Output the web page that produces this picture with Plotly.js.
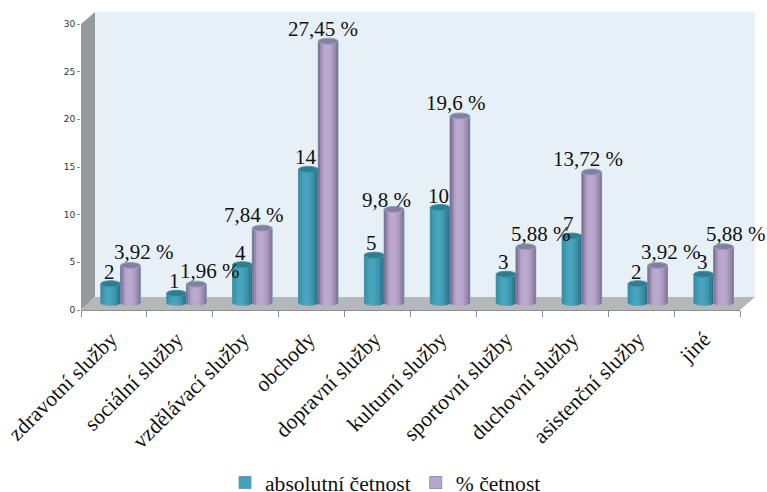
<!DOCTYPE html>
<html lang="cs">
<head>
<meta charset="utf-8">
<script src="https://cdn.plot.ly/plotly-3.0.1.min.js"></script>
<style>html,body{margin:0;padding:0;background:#fff}</style>
</head>
<body>
<div id="chart" style="width:767px;height:492px"></div>
<script>
// Druhy služeb: absolutní a procentní četnost
const categories = ['zdravotní služby','sociální služby','vzdělávací služby','obchody','dopravní služby',
  'kulturní služby','sportovní služby','duchovní služby','asistenční služby','jiné'];
const absolutni = [2,1,4,14,5,10,3,7,2,3];
const procenta = [3.92,1.96,7.84,27.45,9.8,19.6,5.88,13.72,3.92,5.88];
const procentaPopisky = ['3,92 %','1,96 %','7,84 %','27,45 %','9,8 %','19,6 %','5,88 %','13,72 %','3,92 %','5,88 %'];

// Plot frame in pixels
const W = 767, H = 492, L = 81, R = 740, T = 24, B = 310;
const pxX = p => (p - L) / (R - L);
const pxY = p => (B - p) / (B - T);
const poly = pts => 'M' + pts.map(p => pxX(p[0]) + ',' + pxY(p[1])).join('L') + 'Z';

// Cylinder geometry, in axis units
const unitY = 30 / (B - T);
const barWidth = 0.3;
const floorLift = 0.75;
const rimDepth = 3 * unitY;
const capDepth = 3 * unitY;

// Shading bands across a cylinder, left to right
const tealBands = ['#3a8ea6','#3f98b0','#44a1b9','#47a6be','#47a6be','#44a1b9','#3f98b0','#3a8ea5','#327f95','#2b7085'];
const purpleBands = ['#7f7193','#9a89ae','#b2a0c6','#bba8cf','#bca9d0','#bba8cf','#b4a2c8','#a897bb','#9888ab','#85769a'];

function cylinder(name, values, bands, start, edge, mid) {
  const out = [{
    type: 'bar', name, x: categories, y: values, base: values.map(() => floorLift),
    width: barWidth, offset: start, xaxis: 'x2', yaxis: 'y', cliponaxis: false,
    marker: {color: mid, line: {color: edge, width: 1}}
  }];
  const n = bands.length;
  bands.forEach((color, k) => {
    const u = (k + 0.5) / n * 2 - 1;
    const sag = rimDepth * Math.sqrt(1 - u * u);
    out.push({
      type: 'bar', showlegend: false, x: categories,
      y: values.map(v => v + sag), base: values.map(() => floorLift - sag),
      width: barWidth / n, offset: start + k * barWidth / n,
      xaxis: 'x2', yaxis: 'y', cliponaxis: false,
      marker: {color, line: {width: 0}}
    });
  });
  return out;
}

const traces = [
  // Empty trace that keeps the category axis and its labels on the chart
  {type: 'scatter', mode: 'none', x: categories, y: categories.map(() => 0), xaxis: 'x', yaxis: 'y', showlegend: false},
  ...cylinder('absolutní četnost', absolutni, tealBands, -barWidth, '#5f9fb2', '#44a1b9'),
  ...cylinder('% četnost', procenta, purpleBands, 0, '#6fa3b6', '#b8a5cc')
];

// Cylinder caps
const capShapes = [];
function addCaps(values, start, fill, edge) {
  values.forEach((v, i) => capShapes.push({
    type: 'circle', xref: 'x2', yref: 'y', layer: 'above',
    x0: i + start, x1: i + start + barWidth,
    y0: v + floorLift - capDepth, y1: v + floorLift + capDepth,
    fillcolor: fill, line: {color: edge, width: 1}
  }));
}
addCaps(absolutni, -barWidth, '#2f7d93', '#3f93a9');
addCaps(procenta, 0, '#8d7a9e', '#7fb0c2');

// Value labels: nudges keep neighbouring labels apart
const absNudge = [-1,-2,-2,-2,-3,-2,-3,-3,-1,-1];
const pctNudge = [14,14,-8,-5,-8,-4,15,-4,13,12];
const pctDrop = [-1,-1,-1,-2,-5,-1,-1,-1,-1,-1];
const labelFont = {family: 'Liberation Serif, serif', size: 21, color: '#111'};
const annotations = [];
absolutni.forEach((v, i) => annotations.push({
  xref: 'x2', yref: 'y', x: i - barWidth / 2, y: v + floorLift, text: String(v), showarrow: false,
  xanchor: 'center', yanchor: 'bottom', xshift: absNudge[i], yshift: -2, font: labelFont
}));
procenta.forEach((v, i) => annotations.push({
  xref: 'x2', yref: 'y', x: i + barWidth / 2, y: v + floorLift, text: procentaPopisky[i], showarrow: false,
  xanchor: 'center', yanchor: 'bottom', xshift: pctNudge[i], yshift: pctDrop[i], font: labelFont
}));

// Chart box: back wall, side wall and floor
const wallShapes = [
  {type: 'path', xref: 'paper', yref: 'paper', layer: 'below', line: {width: 0}, fillcolor: '#e8f0f7',
   path: poly([[95,12],[755,12],[755,297],[95,297]])},
  {type: 'path', xref: 'paper', yref: 'paper', layer: 'below', line: {width: 0}, fillcolor: '#959a9c',
   path: poly([[81,24],[95,12],[95,297],[81,310]])},
  {type: 'path', xref: 'paper', yref: 'paper', layer: 'below', line: {width: 0}, fillcolor: '#b4b8ba',
   path: poly([[81,310],[95,297],[755,297],[740,310]])}
];

const layout = {
  width: W, height: H, showlegend: true, barmode: 'overlay', hovermode: false,
  paper_bgcolor: '#fff', plot_bgcolor: 'rgba(0,0,0,0)',
  margin: {l: L, r: W - R, t: T, b: H - B, pad: 0, autoexpand: false},
  xaxis: {
    type: 'category', categories, categoryorder: 'array', categoryarray: categories,
    range: [-0.5, 9.5], tickson: 'boundaries', tickangle: -45,
    ticks: 'outside', ticklen: 6, tickcolor: '#8b8f91', tickwidth: 1,
    ticklabelstandoff: 7, ticklabelshift: -3,
    showline: true, linecolor: '#8b8f91', linewidth: 1, showgrid: false, zeroline: false,
    tickfont: {family: 'Liberation Serif, serif', size: 21.6, color: '#111'}
  },
  xaxis2: {type: 'category', categoryorder: 'array', categoryarray: categories, range: [-0.6, 9.4], overlaying: 'x', visible: false, anchor: 'y'},
  yaxis: {
    range: [0, 30], tick0: 0, dtick: 5, ticks: 'outside', ticklen: 3, tickcolor: '#8b8f91', tickwidth: 1,
    showline: false, showgrid: false, zeroline: false,
    tickfont: {family: 'DejaVu Sans, sans-serif', size: 9, color: '#333'}
  },
  legend: {
    orientation: 'h', x: pxX(225), xanchor: 'left', y: pxY(483), yanchor: 'middle',
    font: {family: 'Liberation Serif, serif', size: 21.6, color: '#111'},
    bgcolor: 'rgba(0,0,0,0)'
  },
  shapes: [...wallShapes, ...capShapes],
  annotations
};

Plotly.newPlot('chart', traces, layout, {displayModeBar: false, staticPlot: true});
</script>
</body>
</html>
